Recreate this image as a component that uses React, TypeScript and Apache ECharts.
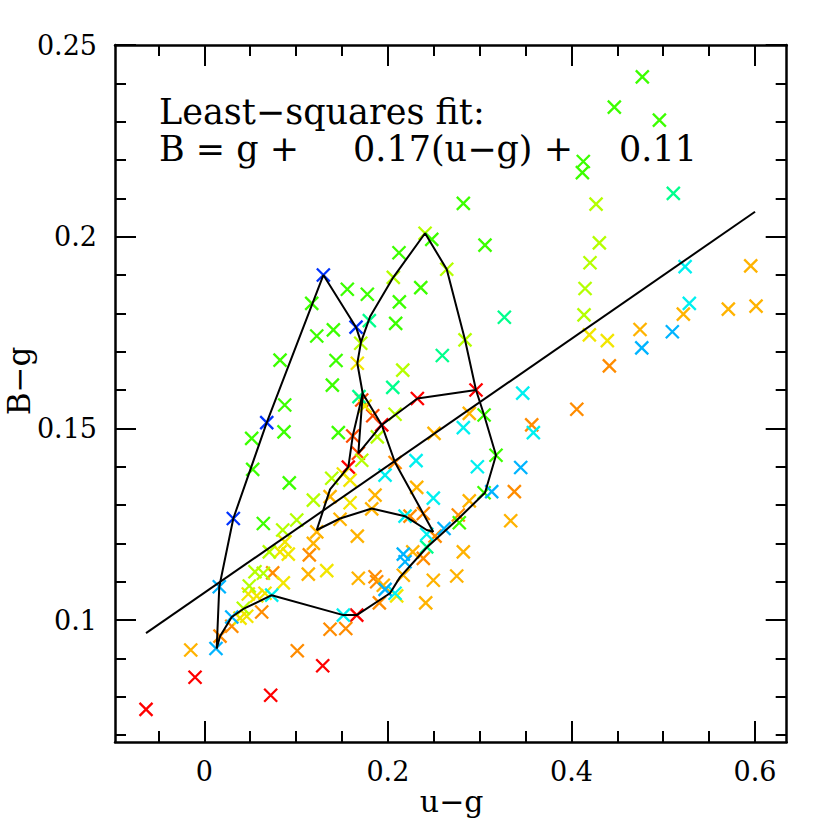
import React, { useEffect, useRef } from "react";
import * as echarts from "echarts";

// ---- axis ranges & ticks ----
const X_MIN = -0.0973;
const X_MAX = 0.6345;
const Y_MIN = 0.0682;
const Y_MAX = 0.25;
const xMajor = [0, 0.2, 0.4, 0.6];
const xMinor = [-0.05, 0.05, 0.1, 0.15, 0.25, 0.3, 0.35, 0.45, 0.5, 0.55];
const yMajor = [0.1, 0.15, 0.2, 0.25];
const yMinor = [0.07, 0.08, 0.09, 0.11, 0.12, 0.13, 0.14, 0.16, 0.17, 0.18, 0.19, 0.21, 0.22, 0.23, 0.24];

// ---- scatter points grouped by colour ----
const redPts = [
  [-0.0635, 0.0767], [-0.0101, 0.0851], [0.0723, 0.0804], [0.129, 0.0881], [0.1661, 0.1013],
  [0.296, 0.16], [0.2321, 0.1578], [0.1933, 0.1509], [0.1569, 0.1399],
];
const redOrangePts = [
  [0.1617, 0.148], [0.1678, 0.1435], [0.1715, 0.1574], [0.1835, 0.1533],
];
const orangePts = [
  [0.0171, 0.0958], [0.0299, 0.0984], [0.0625, 0.1021], [0.0745, 0.1123], [0.1013, 0.092],
  [0.1144, 0.117], [0.137, 0.0976], [0.1541, 0.0978], [0.186, 0.1113], [0.1878, 0.11],
  [0.1907, 0.1045], [0.2078, 0.1411], [0.2241, 0.1271], [0.2386, 0.1278], [0.2386, 0.1161],
  [0.2514, 0.1219], [0.2767, 0.1274], [0.3378, 0.1335], [0.4058, 0.155], [0.4413, 0.1663],
  [0.3567, 0.1509],
];
const amberPts = [
  [-0.0148, 0.0922], [0.137, 0.1322], [0.1479, 0.1263], [0.1824, 0.129], [0.186, 0.1326],
  [0.1667, 0.1219], [0.1188, 0.12], [0.1225, 0.123], [0.1133, 0.112], [0.1678, 0.1109],
  [0.195, 0.1091], [0.2168, 0.1117], [0.2271, 0.1178], [0.2314, 0.1346], [0.2412, 0.1045],
  [0.2495, 0.1104], [0.2503, 0.1487], [0.275, 0.1115], [0.2822, 0.1178], [0.2887, 0.1311],
  [0.2887, 0.1539], [0.3338, 0.1259], [0.5219, 0.1798], [0.4747, 0.1758], [0.5709, 0.1811],
  [0.6011, 0.1819], [0.5953, 0.1924],
];
const yellowPts = [
  [0.0389, 0.1005], [0.0462, 0.101], [0.0479, 0.1068], [0.0571, 0.1063], [0.0661, 0.107],
  [0.0825, 0.1178], [0.0915, 0.1172], [0.0879, 0.1204], [0.0861, 0.1097], [0.1334, 0.1129],
  [0.1515, 0.1381], [0.1588, 0.1365], [0.1588, 0.1306], [0.1751, 0.1558], [0.1667, 0.167],
  [0.2096, 0.1063], [0.4195, 0.1744], [0.4391, 0.1729],
];
const yellowGreenPts = [
  [0.049, 0.1089], [0.0425, 0.1031], [0.0552, 0.1126], [0.0643, 0.1122], [0.0708, 0.1178],
  [0.0854, 0.1235], [0.1007, 0.1261], [0.1188, 0.1313], [0.1388, 0.137], [0.1715, 0.1417],
  [0.1885, 0.1478], [0.2078, 0.1537], [0.2162, 0.1652], [0.1704, 0.1722], [0.2059, 0.1894],
  [0.2405, 0.2009], [0.2641, 0.1915], [0.284, 0.1731], [0.4137, 0.1796], [0.4148, 0.1865],
  [0.4202, 0.1932], [0.4304, 0.1984], [0.4268, 0.2085],
];
const greenPts = [
  [0.4772, 0.2417], [0.4467, 0.2338], [0.4958, 0.2304], [0.4129, 0.2196], [0.4119, 0.2167],
  [0.2822, 0.2087], [0.3058, 0.1978], [0.2121, 0.1958], [0.2478, 0.1993], [0.2358, 0.1867],
  [0.2125, 0.183], [0.2085, 0.1774], [0.117, 0.1826], [0.1558, 0.1863], [0.1776, 0.185],
  [0.1225, 0.1741], [0.1435, 0.1677], [0.1395, 0.1613], [0.0825, 0.1678], [0.0876, 0.1561],
  [0.0868, 0.1491], [0.0516, 0.1474], [0.0527, 0.1393], [0.0643, 0.1252], [0.0926, 0.1358],
  [0.146, 0.1489], [0.3178, 0.143], [0.3048, 0.1535], [0.3048, 0.1332], [0.2778, 0.1254],
  [0.1406, 0.1757],
];
const springPts = [
  [0.511, 0.2113], [0.3269, 0.179], [0.1798, 0.1781], [0.2053, 0.1607], [0.2593, 0.169],
  [0.1685, 0.1583], [0.2423, 0.1191],
];
const cyanPts = [
  [0.5238, 0.1922], [0.5284, 0.1826], [0.3469, 0.1592], [0.3585, 0.1489], [0.2822, 0.1502],
  [0.2307, 0.1416], [0.1969, 0.1378], [0.2975, 0.14], [0.2495, 0.1318], [0.2187, 0.1271],
  [0.2423, 0.1224], [0.2078, 0.107], [0.1515, 0.1013], [0.0734, 0.1065],
];
const lightBluePts = [
  [0.4766, 0.171], [0.5099, 0.1752], [0.3447, 0.1398], [0.3131, 0.1335], [0.2612, 0.1239],
  [0.2168, 0.1172], [0.2187, 0.1152], [0.1969, 0.108], [0.0299, 0.1008], [0.0127, 0.0926],
  [0.0163, 0.1087],
];
const bluePts = [
  [0.0316, 0.1265], [0.068, 0.1515], [0.1297, 0.19], [0.1653, 0.1764],
];

// ---- least-squares fit line end points ----
const fitLine = [[-0.0635, 0.0966], [0.6, 0.2065]];

// ---- black track lines ----
const trackA = [
  [0.0135, 0.0926], [0.0163, 0.1087], [0.0316, 0.1265], [0.068, 0.1515], [0.1297, 0.19],
  [0.1653, 0.1764], [0.1707, 0.1725],
];
const trackB = [
  [0.0135, 0.0926], [0.0171, 0.0958], [0.0299, 0.1008], [0.0425, 0.1029], [0.0734, 0.1065],
  [0.1515, 0.1013], [0.1661, 0.1013], [0.2023, 0.107], [0.2132, 0.1112], [0.2426, 0.119],
  [0.2753, 0.1261], [0.3058, 0.1332], [0.3178, 0.143], [0.3048, 0.1535], [0.296, 0.16],
  [0.284, 0.1731], [0.2641, 0.1915], [0.2405, 0.2009], [0.2059, 0.1894], [0.1805, 0.1791],
  [0.1707, 0.1725], [0.1667, 0.167], [0.1726, 0.1591],
];
const trackC = [
  [0.1726, 0.1591], [0.1617, 0.148], [0.1569, 0.1399], [0.137, 0.1341], [0.1225, 0.1235],
  [0.1479, 0.1265], [0.1824, 0.1291], [0.2187, 0.1271], [0.2423, 0.1235], [0.2495, 0.123],
];
const trackD = [
  [0.296, 0.16], [0.2321, 0.1578], [0.1933, 0.1509], [0.1678, 0.1435], [0.1726, 0.1591],
];
const trackE = [
  [0.1726, 0.1591], [0.1933, 0.1509], [0.2078, 0.1411], [0.2495, 0.123],
];

const FONT = "'DejaVu Serif', 'Liberation Serif', serif";
const X_SYMBOL = "path://M0,0L10,10M10,0L0,10";

const groups: [string, number[][]][] = [
  ["#ff0000", redPts],
  ["#ff4a00", redOrangePts],
  ["#ff8c00", orangePts],
  ["#ffb300", amberPts],
  ["#f2e600", yellowPts],
  ["#b4ff00", yellowGreenPts],
  ["#3cff00", greenPts],
  ["#00ff8c", springPts],
  ["#00f0f0", cyanPts],
  ["#00b4ff", lightBluePts],
  ["#0033ff", bluePts],
];

export default function App() {
  const ref = useRef<HTMLDivElement>(null);
  useEffect(() => {
    if (!ref.current) return;
    const chart = echarts.init(ref.current, undefined, { renderer: "svg" });
    const axisCommon = {
      type: "value" as const,
      splitLine: { show: false },
    };
    const tickStyle = { color: "#000", width: 2 };
    const frameStyle = { color: "#000", width: 2.5 };
    const xAxes = [
      {
        ...axisCommon, min: X_MIN, max: X_MAX, position: "bottom",
        axisLine: { show: true, onZero: false, lineStyle: frameStyle },
        axisTick: { show: true, inside: true, length: 21, lineStyle: tickStyle, customValues: xMajor },
        axisLabel: { show: true, customValues: xMajor, fontFamily: FONT, fontSize: 27, color: "#000", margin: 16 },
      },
      {
        ...axisCommon, min: X_MIN, max: X_MAX, position: "bottom",
        axisLine: { show: false, onZero: false },
        axisTick: { show: true, inside: true, length: 11, lineStyle: tickStyle, customValues: xMinor },
        axisLabel: { show: false },
      },
      {
        ...axisCommon, min: X_MIN, max: X_MAX, position: "top",
        axisLine: { show: true, onZero: false, lineStyle: frameStyle },
        axisTick: { show: true, inside: true, length: 21, lineStyle: tickStyle, customValues: xMajor },
        axisLabel: { show: false },
      },
      {
        ...axisCommon, min: X_MIN, max: X_MAX, position: "top",
        axisLine: { show: false, onZero: false },
        axisTick: { show: true, inside: true, length: 11, lineStyle: tickStyle, customValues: xMinor },
        axisLabel: { show: false },
      },
    ];
    const yAxes = [
      {
        ...axisCommon, min: Y_MIN, max: Y_MAX, position: "left",
        axisLine: { show: true, onZero: false, lineStyle: frameStyle },
        axisTick: { show: true, inside: true, length: 21, lineStyle: tickStyle, customValues: yMajor },
        axisLabel: { show: true, customValues: yMajor, fontFamily: FONT, fontSize: 27, color: "#000", margin: 18 },
      },
      {
        ...axisCommon, min: Y_MIN, max: Y_MAX, position: "left",
        axisLine: { show: false, onZero: false },
        axisTick: { show: true, inside: true, length: 11, lineStyle: tickStyle, customValues: yMinor },
        axisLabel: { show: false },
      },
      {
        ...axisCommon, min: Y_MIN, max: Y_MAX, position: "right",
        axisLine: { show: true, onZero: false, lineStyle: frameStyle },
        axisTick: { show: true, inside: true, length: 21, lineStyle: tickStyle, customValues: yMajor },
        axisLabel: { show: false },
      },
      {
        ...axisCommon, min: Y_MIN, max: Y_MAX, position: "right",
        axisLine: { show: false, onZero: false },
        axisTick: { show: true, inside: true, length: 11, lineStyle: tickStyle, customValues: yMinor },
        axisLabel: { show: false },
      },
    ];

    const scatterSeries = groups.map(([color, pts]) => ({
      type: "scatter",
      xAxisIndex: 0,
      yAxisIndex: 0,
      data: pts,
      symbol: X_SYMBOL,
      symbolSize: 13,
      itemStyle: { color: color, borderColor: color, borderWidth: 2.3, opacity: 1 },
      emphasis: { disabled: true },
      z: 2,
    }));
    const lineSeries = [fitLine, trackA, trackB, trackC, trackD, trackE].map((d) => ({
      type: "line",
      xAxisIndex: 0,
      yAxisIndex: 0,
      data: d,
      showSymbol: false,
      symbol: "none",
      lineStyle: { color: "#000", width: 2 },
      emphasis: { disabled: true },
      z: 3,
    }));

    chart.setOption({
      animation: false,
      backgroundColor: "#fff",
      grid: { left: 115, right: 43.3, top: 45, bottom: 88, containLabel: false, outerBoundsMode: "none" },
      xAxis: xAxes,
      yAxis: yAxes,
      series: [...scatterSeries, ...lineSeries],
      graphic: [
        { type: "text", x: 159, y: 111.5, style: { text: "Least\u2212squares fit:", font: `35px ${FONT}`, fill: "#000", textAlign: "left", textVerticalAlign: "middle" } },
        { type: "text", x: 159, y: 149, style: { text: "B = g +", font: `35px ${FONT}`, fill: "#000", textAlign: "left", textVerticalAlign: "middle" } },
        { type: "text", x: 353, y: 149, style: { text: "0.17(u\u2212g) +", font: `35px ${FONT}`, fill: "#000", textAlign: "left", textVerticalAlign: "middle" } },
        { type: "text", x: 619, y: 149, style: { text: "0.11", font: `35px ${FONT}`, fill: "#000", textAlign: "left", textVerticalAlign: "middle" } },
        { type: "text", x: 451.7, y: 801, style: { text: "u\u2212g", font: `30px ${FONT}`, fill: "#000", textAlign: "center", textVerticalAlign: "middle" } },
        { type: "text", x: 19, y: 381, rotation: Math.PI / 2, style: { text: "B\u2212g", font: `31px ${FONT}`, fill: "#000", textAlign: "center", textVerticalAlign: "middle" } },
      ],
    });
    return () => chart.dispose();
  }, []);
  return (
    <div
      ref={ref}
      style={{ position: "fixed", left: 0, top: 0, width: 830, height: 830, background: "#fff" }}
    />
  );
}
